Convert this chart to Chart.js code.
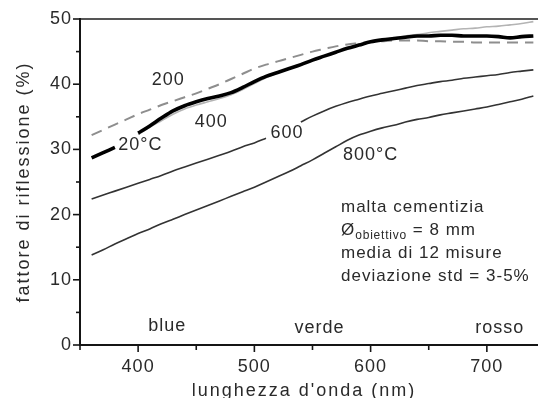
<!DOCTYPE html>
<html>
<head>
<meta charset="utf-8">
<script src="https://cdn.jsdelivr.net/npm/chart.js@4.4.1/dist/chart.umd.min.js"></script>
<style>
  html, body { margin: 0; padding: 0; background: #fff; }
  #wrap { width: 538px; height: 398px; }
</style>
</head>
<body>
<div id="wrap"><canvas id="chart"></canvas></div>
<script>
// lunghezza d'onda (nm)
const wavelengths = [360, 370, 380, 390, 400, 410, 420, 430, 440, 450,
  460, 470, 480, 490, 500, 510, 520, 530, 540, 550,
  560, 570, 580, 590, 600, 610, 620, 630, 640, 650,
  660, 670, 680, 690, 700, 710, 720, 730, 740];

// fattore di riflessione (%) per temperatura; null = interruzione per l'etichetta
const r20 = [28.7, 29.5, 30.3, null, 32.5, 33.6, 34.8, 35.9, 36.7, 37.3,
  37.8, 38.2, 38.7, 39.5, 40.4, 41.2, 41.8, 42.4, 43.0, 43.7,
  44.3, 44.9, 45.5, 46.0, 46.5, 46.8, 47.0, 47.2, 47.4, 47.4,
  47.5, 47.5, 47.4, 47.4, 47.4, 47.3, 47.1, 47.3, 47.4];
const r200 = [32.2, 33.0, 33.8, 34.6, 35.4, 36.1, 36.8, 37.4, 38.0, 38.6,
  39.3, 40.0, 40.8, 41.6, 42.4, 43.0, 43.5, 44.0, 44.5, 45.0,
  45.4, 45.8, 46.1, 46.3, 46.5, 46.6, 46.7, 46.7, 46.7, 46.6,
  46.6, 46.5, 46.5, 46.4, 46.4, 46.4, 46.4, 46.4, 46.4];
const r400 = [null, null, null, null, 32.3, 33.4, 34.4, 35.4, 36.2, 36.8,
  37.3, 37.8, 38.4, 39.2, 40.1, 41.0, 41.7, 42.4, 43.0, 43.7,
  44.3, 44.9, 45.5, 46.0, 46.4, 46.8, 47.1, 47.4, 47.6, 47.9,
  48.1, 48.3, 48.5, 48.6, 48.8, 48.9, 49.1, 49.3, 49.6];
const r600 = [22.4, 23.0, 23.6, 24.2, 24.8, 25.4, 26.0, 26.7, 27.3, 27.9,
  28.5, 29.1, 29.7, 30.4, 31.0, 31.7, null, null, 34.2, 35.1,
  35.9, 36.6, 37.2, 37.7, 38.2, 38.6, 39.0, 39.4, 39.8, 40.1,
  40.4, 40.6, 40.9, 41.1, 41.3, 41.5, 41.8, 42.0, 42.2];
const r800 = [13.8, 14.6, 15.5, 16.3, 17.1, 17.8, 18.6, 19.3, 20.0, 20.7,
  21.4, 22.1, 22.8, 23.5, 24.2, 25.0, 25.8, 26.6, 27.5, 28.4,
  29.4, 30.4, 31.4, 32.2, 32.8, 33.3, 33.7, 34.2, 34.6, 34.9,
  35.3, 35.6, 35.9, 36.2, 36.5, 36.9, 37.3, 37.7, 38.2];

const xMajorTicks = [400, 500, 600, 700];
const xMinorTicks = [350, 450, 550, 650];
const yMajorTicks = [0, 10, 20, 30, 40, 50];
const yMinorTicks = [5, 15, 25, 35, 45];

// etichette delle curve e delle bande, in coordinate dei dati
const curveLabels = [
  { text: '200', x: 426, y: 40.6 },
  { text: '400', x: 463, y: 34.2 },
  { text: '20°C', x: 402, y: 30.7 },
  { text: '600', x: 528, y: 32.5 },
  { text: '800°C', x: 600, y: 29.1 },
  { text: 'blue', x: 425, y: 2.9 },
  { text: 'verde', x: 556, y: 2.6 },
  { text: 'rosso', x: 711, y: 2.6 }
];
const noteX = 574.5;
const noteRows = [20.4, 16.9, 13.3, 9.8];

const FONT = '"Liberation Sans", Arial, Helvetica, sans-serif';
const TEXT = '#2a2a2a';

const toPoints = vals => wavelengths.map((w, i) => ({ x: w, y: vals[i] }));

const frame = {
  id: 'frame',
  beforeDraw(chart) {
    chart.ctx.letterSpacing = '1px';
  },
  afterDraw(chart) {
    const { ctx, chartArea: a, scales: { x, y } } = chart;
    const seg = (x1, y1, x2, y2) => {
      ctx.beginPath(); ctx.moveTo(x1, y1); ctx.lineTo(x2, y2); ctx.stroke();
    };
    ctx.save();

    // bordo superiore
    ctx.strokeStyle = '#555';
    ctx.lineWidth = 2;
    seg(a.left, a.top, a.right, a.top);

    // assi
    ctx.strokeStyle = '#151515';
    seg(a.left, a.top - 1, a.left, a.bottom + 1);
    seg(a.left - 1, a.bottom, a.right, a.bottom);

    // tacche
    ctx.lineWidth = 1.6;
    yMajorTicks.forEach(v => { const p = y.getPixelForValue(v); seg(a.left - 7, p, a.left, p); });
    yMinorTicks.forEach(v => { const p = y.getPixelForValue(v); seg(a.left - 4, p, a.left, p); });
    xMajorTicks.forEach(v => { const p = x.getPixelForValue(v); seg(p, a.bottom, p, a.bottom + 7); });
    xMinorTicks.forEach(v => { const p = x.getPixelForValue(v); seg(p, a.bottom, p, a.bottom + 5); });

    // etichette
    ctx.fillStyle = TEXT;
    ctx.font = '18px ' + FONT;
    ctx.letterSpacing = '1px';
    ctx.textAlign = 'center';
    ctx.textBaseline = 'middle';
    curveLabels.forEach(l => ctx.fillText(l.text, x.getPixelForValue(l.x), y.getPixelForValue(l.y)));

    // note
    ctx.textAlign = 'left';
    ctx.textBaseline = 'alphabetic';
    ctx.font = '17px ' + FONT;
    const nx = x.getPixelForValue(noteX);
    ctx.fillText('malta cementizia', nx, y.getPixelForValue(noteRows[0]));
    let px = nx;
    const py = y.getPixelForValue(noteRows[1]);
    ctx.fillText('Ø', px, py);
    px += ctx.measureText('Ø').width;
    ctx.font = '12px ' + FONT;
    ctx.letterSpacing = '0.8px';
    ctx.fillText('obiettivo', px, py + 4);
    px += ctx.measureText('obiettivo').width;
    ctx.font = '17px ' + FONT;
    ctx.letterSpacing = '1px';
    ctx.fillText(' = 8 mm', px, py);
    ctx.fillText('media di 12 misure', nx, y.getPixelForValue(noteRows[2]));
    ctx.fillText('deviazione std = 3-5%', nx, y.getPixelForValue(noteRows[3]));

    // titoli degli assi
    ctx.font = '18px ' + FONT;
    ctx.letterSpacing = '2px';
    ctx.textAlign = 'center';
    ctx.fillText("lunghezza d'onda (nm)", 304, 396);
    ctx.translate(29, (a.top + a.bottom) / 2);
    ctx.rotate(-Math.PI / 2);
    ctx.fillText('fattore di riflessione (%)', 0, 0);

    ctx.restore();
  }
};

const tickFont = { family: FONT, size: 18 };

new Chart(document.getElementById('chart'), {
  type: 'line',
  data: {
    datasets: [
      { label: '20°C', data: toPoints(r20), borderColor: '#000', borderWidth: 3.6 },
      { label: '200', data: toPoints(r200), borderColor: '#8e8e8e', borderWidth: 2, borderDash: [11, 7] },
      { label: '400', data: toPoints(r400), borderColor: '#b4b4b4', borderWidth: 1.6 },
      { label: '600', data: toPoints(r600), borderColor: '#333', borderWidth: 1.6 },
      { label: '800°C', data: toPoints(r800), borderColor: '#333', borderWidth: 1.6 }
    ]
  },
  options: {
    responsive: true,
    maintainAspectRatio: false,
    animation: false,
    layout: { padding: { top: 19, right: 0, left: 0, bottom: 0 } },
    elements: {
      point: { radius: 0 },
      line: { cubicInterpolationMode: 'monotone', fill: false }
    },
    plugins: { legend: { display: false }, tooltip: { enabled: false } },
    scales: {
      x: {
        type: 'linear', min: 350, max: 744,
        grid: { display: false, tickLength: 7 },
        border: { display: false },
        afterBuildTicks: s => { s.ticks = xMajorTicks.map(v => ({ value: v })); },
        afterFit: s => { s.height = 53; },
        ticks: { padding: 4, color: TEXT, font: tickFont, autoSkip: false, maxRotation: 0 }
      },
      y: {
        min: 0, max: 50,
        grid: { display: false, tickLength: 7 },
        border: { display: false },
        afterBuildTicks: s => { s.ticks = yMajorTicks.map(v => ({ value: v })); },
        afterFit: s => { s.width = 80; },
        ticks: { padding: 1, color: TEXT, font: tickFont, autoSkip: false }
      }
    }
  },
  plugins: [frame]
});
</script>
</body>
</html>
